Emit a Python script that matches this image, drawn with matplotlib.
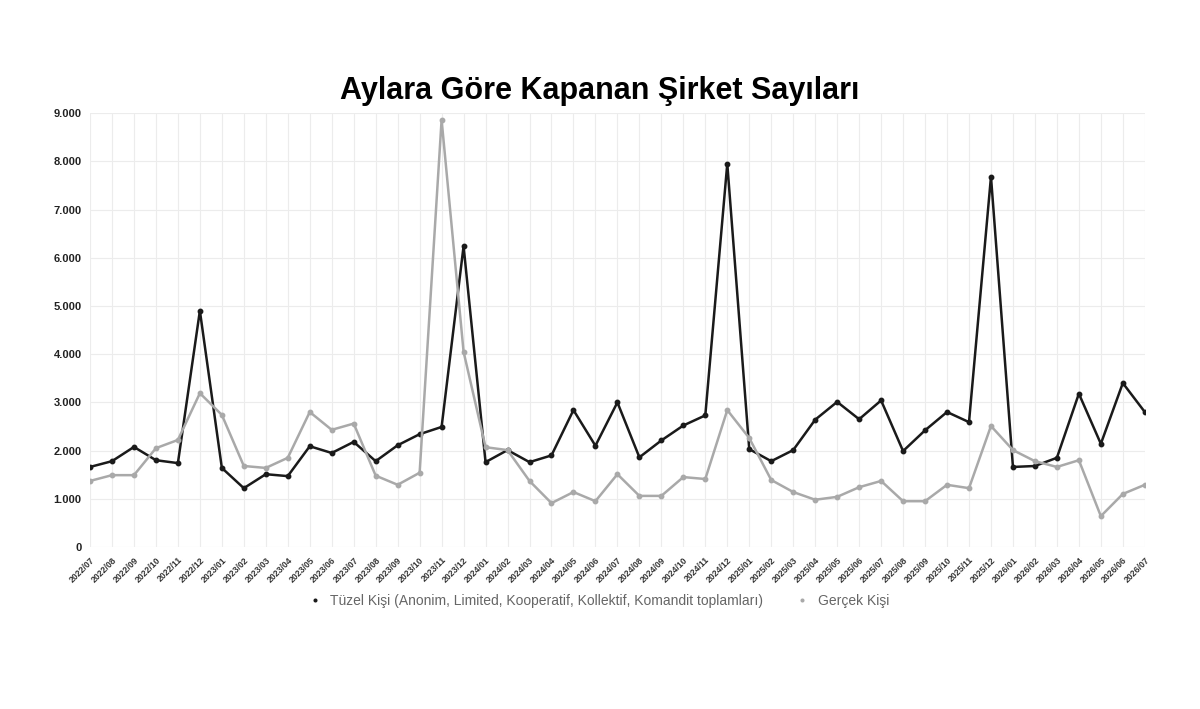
import matplotlib
matplotlib.use("Agg")
import matplotlib.pyplot as plt
from matplotlib.ticker import FuncFormatter

# months 2022/07 .. 2026/07
months = []
for y in range(2022, 2027):
    for m in range(1, 13):
        if (y == 2022 and m < 7) or (y == 2026 and m > 7):
            continue
        months.append("%d/%02d" % (y, m))

tuzel = [1660, 1780, 2075, 1800, 1740, 4900, 1640, 1220, 1510, 1470,
         2090, 1950, 2180, 1780, 2110, 2340, 2490, 6240, 1760, 2010,
         1760, 1900, 2840, 2100, 3000, 1860, 2210, 2520, 2730, 7950,
         2030, 1780, 2010, 2640, 3010, 2650, 3040, 1990, 2420, 2800,
         2590, 7680, 1660, 1680, 1850, 3180, 2140, 3400, 2800]

gercek = [1370, 1490, 1490, 2050, 2220, 3190, 2740, 1680, 1640, 1850,
          2800, 2430, 2560, 1480, 1290, 1540, 8860, 4050, 2070, 2010,
          1370, 910, 1140, 950, 1510, 1060, 1060, 1450, 1410, 2840,
          2260, 1390, 1140, 980, 1040, 1240, 1370, 950, 950, 1290,
          1220, 2510, 2010, 1780, 1660, 1800, 640, 1100, 1290]

plt.rcParams['font.family'] = ['Liberation Sans', 'DejaVu Sans']

fig = plt.figure(figsize=(12, 7.09), dpi=100)
ax = fig.add_axes([0.075, 0.2285, 0.879, 0.612])

x = range(len(months))
ax.plot(x, tuzel, color='#1a1a1a', lw=1.8, marker='o', ms=3.2,
        label='Tüzel Kişi (Anonim, Limited, Kooperatif, Kollektif, Komandit toplamları)')
ax.plot(x, gercek, color='#a9a9a9', lw=1.8, marker='o', ms=3.2,
        label='Gerçek Kişi')

ax.set_xlim(0, len(months) - 1)
ax.set_ylim(0, 9000)
ax.set_yticks(range(0, 9001, 1000))
ax.yaxis.set_major_formatter(FuncFormatter(lambda v, p: f"{int(v):,}".replace(",", ".")))
ax.set_xticks(list(x))
ax.set_xticklabels(months, rotation=45, ha='right', rotation_mode='anchor',
                   fontsize=6.3, fontweight='bold', color='#333333')
for lbl in ax.get_yticklabels():
    lbl.set_fontsize(8)
    lbl.set_fontweight('bold')
    lbl.set_color('#222222')

ax.grid(True, color='#ececec', lw=0.8)
ax.set_axisbelow(True)
for s in ax.spines.values():
    s.set_visible(False)
ax.tick_params(length=0, pad=6)

fig.text(0.5, 0.86, 'Aylara Göre Kapanan Şirket Sayıları', ha='center',
         fontsize=22, fontweight='bold')

leg = fig.legend(loc='center', bbox_to_anchor=(0.5, 0.153), ncol=2, frameon=False,
                 fontsize=10, handlelength=0.6, markerscale=0.6, columnspacing=2.5)
for h in leg.legend_handles:
    h.set_linestyle('none')
for t in leg.get_texts():
    t.set_color('#666666')

fig.savefig('out.png', dpi=100)
